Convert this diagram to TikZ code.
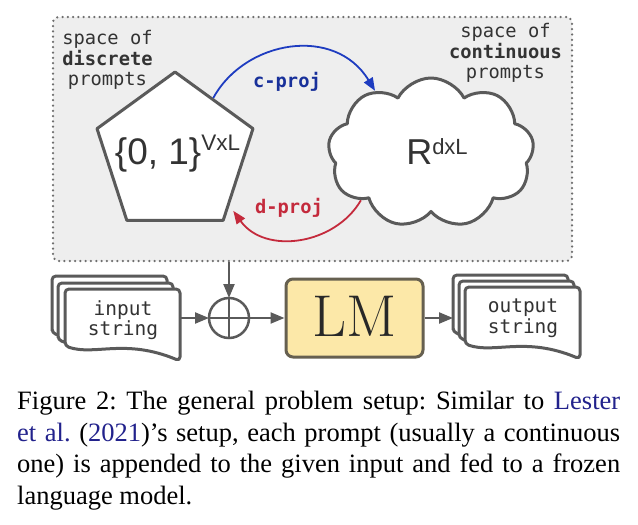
\documentclass[tikz,border=0pt]{standalone}
\usepackage{fontspec}
\usetikzlibrary{arrows.meta,shapes.geometric,shapes.symbols,calc}
\newfontfamily\monofont{DejaVu Sans Mono}
\newfontfamily\arialfont{Liberation Sans}
\newfontfamily\capfont{Liberation Serif}
\definecolor{boxfill}{HTML}{EEEEEE}
\definecolor{dotc}{HTML}{6E6E6E}
\definecolor{linec}{HTML}{5A5A5A}
\definecolor{lmfill}{HTML}{FCE8A8}
\definecolor{lmline}{HTML}{666050}
\definecolor{cblue}{HTML}{1E3CC0}
\definecolor{cred}{HTML}{C42A3C}
\definecolor{txt}{HTML}{333333}
\definecolor{linkblue}{HTML}{22228C}
\begin{document}
\begin{tikzpicture}[x=1pt,y=-1pt,
  shapeline/.style={draw=linec, line width=3pt, fill=white, line join=round},
  docline/.style={draw=linec, line width=3pt, fill=white, line join=round, rounded corners=4pt},
  arr/.style={draw=linec, line width=2.2pt, -{Triangle[length=14pt,width=11pt]}},
  projarr/.style={line width=1.8pt, -{Triangle[length=13pt,width=10pt]}},
  lbl/.style={font=\monofont\fontsize{18.75}{20.5}\selectfont, text=txt, align=center, inner sep=0},
  pics/docpage/.style={code={
    \filldraw[docline] (0,57) -- (0,0) -- (115,0) -- (115,72)
      .. controls (60,49) and (30,67) .. (0,57) -- cycle;
  }}
]
\useasboundingbox (0,0) rectangle (638,525);
\fill[white] (0,0) rectangle (638,525);

% space box
\node[draw=dotc, fill=boxfill, line width=2.5pt, dash pattern=on 0pt off 5.3pt,
  line cap=round, rounded corners=6pt, minimum width=519pt, minimum height=244pt,
  inner sep=0] (space) at (312.5,139) {};

\node[lbl] (dlabel) at (107.5,60) {space of\\\textbf{discrete}\\prompts};
\node[lbl] (clabel) at (505.5,53) {space of\\\textbf{continuous}\\prompts};

% pentagon
\node[regular polygon, regular polygon sides=5, minimum size=164pt, inner sep=0,
  shapeline] (pent) at (175,154) {};
\node[inner sep=0, text=txt, font=\arialfont\fontsize{37}{37}\selectfont] (penttext) at (177.5,154)
  {\{0, 1\}\raisebox{14pt}{\fontsize{22.5}{22.5}\selectfont VxL}};

% cloud
\node[cloud, cloud puffs=9, cloud puff arc=125, aspect=1.4, minimum width=206pt,
  minimum height=150pt, inner sep=0, shapeline] (cloud) at (431,153) {};
\node[inner sep=0, text=txt, font=\arialfont\fontsize{36}{36}\selectfont] (cloudtext) at (437,152)
  {R\raisebox{10pt}{\fontsize{22}{22}\selectfont dxL}};

% projections
\coordinate (cstart) at ($(pent.corner 1)!0.48!(pent.corner 5)$);
\coordinate (dend) at ($(pent.corner 4)+(9,-11)$);
\draw[projarr, cblue] (cstart) .. controls (245,40) and (335,25) .. (cloud.132);
\draw[projarr, cred] (cloud.214) .. controls (335,245) and (265,255) .. (dend);
\node[lbl, anchor=base, text=cblue!80!black, font=\monofont\bfseries\fontsize{18.75}{20.5}\selectfont] (cproj) at (287,87) {c-proj};
\node[lbl, anchor=base, text=cred, font=\monofont\bfseries\fontsize{18.75}{20.5}\selectfont] (dproj) at (289,213) {d-proj};

% input documents
\pic at (52,276) {docpage};
\pic at (58,283) {docpage};
\pic at (65,289) {docpage};
\node[lbl, font=\monofont\fontsize{19.5}{20}\selectfont] (intext) at (123,320) {input\\string};

% output documents
\pic at (453,275) {docpage};
\pic at (459,281) {docpage};
\pic at (465,287) {docpage};
\node[lbl, font=\monofont\fontsize{19.5}{20.5}\selectfont] (outtext) at (523,318) {output\\string};

% plus
\node[circle, draw=linec, line width=2.5pt, minimum size=40pt, inner sep=0, outer sep=0] (plus) at (229,318) {};
\draw[linec, line width=2.5pt] (plus.north) -- (plus.south) (plus.west) -- (plus.east);

% LM
\node[draw=lmline, fill=lmfill, line width=3pt, rounded corners=7pt, minimum width=137pt,
  minimum height=78pt, inner sep=0, text={rgb,255:red,40;green,40;blue,40},
  font=\fontsize{59}{59}\selectfont] (lm) at (354.5,318) {\raisebox{3pt}{LM}};

\coordinate (inR) at (180,318);
\coordinate (outL) at (453,318);
\draw[arr] (space.south -| plus) -- (plus);
\draw[arr] (inR) -- (plus);
\draw[arr] (plus) -- (lm);
\draw[arr] (lm) -- (outL);

% caption
\node[anchor=north west, inner sep=0, text width=603pt, align=justify,
  font=\capfont\frenchspacing\fontsize{26.5}{31.5}\selectfont] (cap) at (17,391)
  {Figure 2: The general problem setup: Similar to \textcolor{linkblue}{Lester}\linebreak
   \textcolor{linkblue}{et al.} (\textcolor{linkblue}{2021})’s setup, each prompt (usually a continuous\linebreak
   one) is appended to the given input and fed to a frozen\linebreak
   language model.};
\end{tikzpicture}
\end{document}
